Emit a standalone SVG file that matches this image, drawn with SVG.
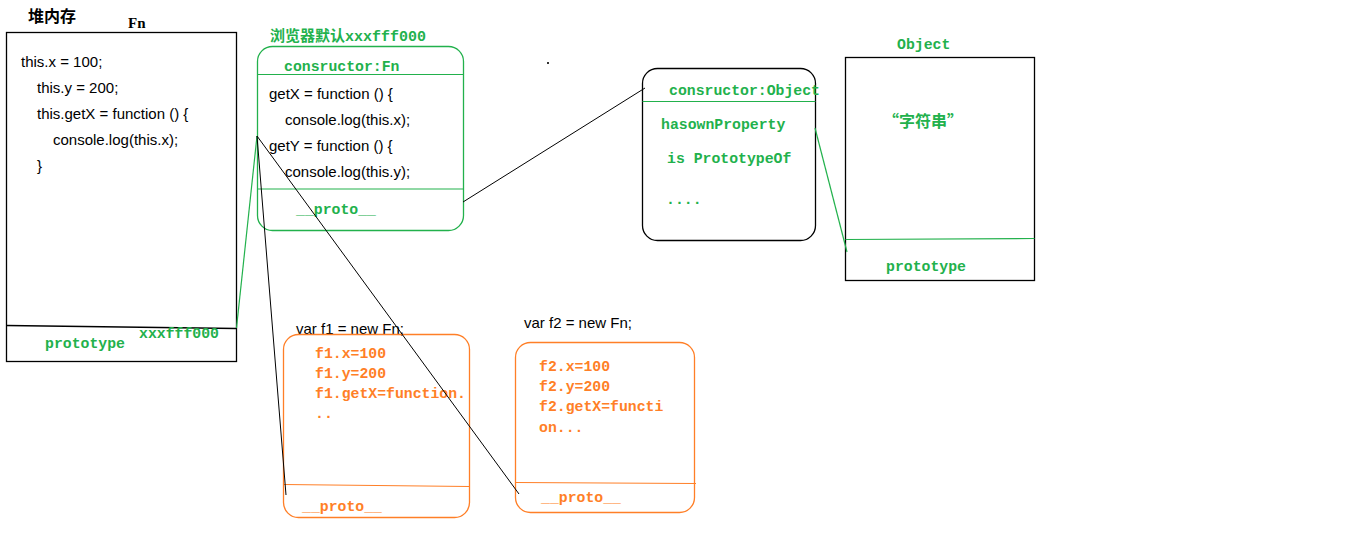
<svg xmlns="http://www.w3.org/2000/svg" width="1360" height="540" viewBox="0 0 1360 540">
<style>
.bg{fill:#ffffff}
.box{fill:none;stroke:#000;stroke-width:1.3}
.gbox{fill:none;stroke:#22b14c;stroke-width:1.3}
.obox{fill:none;stroke:#ff7f27;stroke-width:1.3}
.gl{stroke:#22b14c;stroke-width:1.2;fill:none}
.bl{stroke:#000;stroke-width:1;fill:none}
.ol{stroke:#ff7f27;stroke-width:1.2;fill:none}
.code{font-family:"Liberation Sans","Noto Sans",sans-serif;font-size:15px;fill:#000}
.mg{font-family:"Liberation Mono","DejaVu Sans Mono","Noto Sans CJK SC",monospace;font-size:14.8px;font-weight:bold;fill:#22b14c}
.mo{font-family:"Liberation Mono","DejaVu Sans Mono",monospace;font-size:14.8px;font-weight:bold;fill:#ff7f27}
.cjk{font-family:"Noto Sans CJK SC",sans-serif;font-weight:bold}
</style>
<rect class="bg" x="0" y="0" width="1360" height="540"/>

<g id="heap-label">
<text class="cjk" x="28" y="22" font-size="16" fill="#000">堆内存</text>
</g>

<g id="fn-box">
<text x="128" y="28" font-family="Liberation Serif,serif" font-size="15" font-weight="bold" fill="#000">Fn</text>
<rect class="box" x="6.5" y="32.5" width="230" height="329"/>
<path class="box" d="M6.5 325.5 L236.5 328.5"/>
<text class="code" x="21" y="67">this.x = 100;</text>
<text class="code" x="37" y="93">this.y = 200;</text>
<text class="code" x="37" y="119">this.getX = function () {</text>
<text class="code" x="53" y="145">console.log(this.x);</text>
<text class="code" x="37" y="171">}</text>
<text class="mg" x="45" y="348">prototype</text>
<text class="mg" x="139" y="338">xxxfff000</text>
</g>

<g id="fn-prototype">
<text x="270" y="41" font-size="15" font-weight="bold" fill="#22b14c" font-family="Noto Sans CJK SC,sans-serif">浏览器默认<tspan font-family="Liberation Mono,monospace">xxxfff000</tspan></text>
<rect class="gbox" x="257.5" y="46.5" width="206" height="184" rx="15" ry="15"/>
<line class="gl" x1="257.5" y1="74.5" x2="463.5" y2="74.5"/>
<line class="gl" x1="257.5" y1="189" x2="463.5" y2="189"/>
<text class="mg" x="284" y="71">consructor:Fn</text>
<text class="code" x="269" y="99">getX = function () {</text>
<text class="code" x="285" y="125">console.log(this.x);</text>
<text class="code" x="269" y="151">getY = function () {</text>
<text class="code" x="285" y="177">console.log(this.y);</text>
<text class="mg" x="296" y="214">__proto__</text>
</g>

<g id="object-prototype">
<rect class="box" x="642.5" y="68.5" width="173" height="172" rx="15" ry="15"/>
<line class="gl" x1="642.5" y1="101.5" x2="815.5" y2="101.5"/>
<text class="mg" x="669" y="95">consructor:Object</text>
<text class="mg" x="661" y="129">hasownProperty</text>
<text class="mg" x="667" y="163">is PrototypeOf</text>
<text class="mg" x="666" y="204">....</text>
</g>

<g id="object-box">
<text class="mg" x="897" y="49">Object</text>
<rect class="box" x="845.5" y="57.5" width="189" height="223"/>
<line class="gl" x1="845.5" y1="239.5" x2="1034.5" y2="238.5"/>
<text x="883" y="127" font-size="16" font-weight="bold" fill="#22b14c" font-family="Noto Sans CJK SC,sans-serif">“字符串”</text>
<text class="mg" x="886" y="271">prototype</text>
</g>

<g id="f1">
<text class="code" x="296" y="334">var f1 = new Fn;</text>
<rect class="obox" x="283.5" y="334.5" width="186" height="183" rx="15" ry="15"/>
<line class="ol" x1="283.5" y1="484.5" x2="469.5" y2="486.5"/>
<text class="mo" x="315" y="358">f1.x=100</text>
<text class="mo" x="315" y="378">f1.y=200</text>
<text class="mo" x="315" y="398">f1.getX=function.</text>
<text class="mo" x="315" y="418">..</text>
<text class="mo" x="302" y="511">__proto__</text>
</g>

<g id="f2">
<text class="code" x="524" y="328">var f2 = new Fn;</text>
<rect class="obox" x="515.5" y="342.5" width="179" height="170" rx="15" ry="15"/>
<line class="ol" x1="515.5" y1="482.5" x2="696" y2="483.5"/>
<text class="mo" x="539" y="371">f2.x=100</text>
<text class="mo" x="539" y="391">f2.y=200</text>
<text class="mo" x="539" y="411">f2.getX=functi</text>
<text class="mo" x="539" y="432">on...</text>
<text class="mo" x="541" y="502">__proto__</text>
</g>

<g id="connectors">
<line class="gl" x1="236.5" y1="328" x2="257" y2="136"/>
<line class="bl" x1="257" y1="136" x2="286" y2="495"/>
<line class="bl" x1="257" y1="136" x2="519" y2="494"/>
<line class="bl" x1="463" y1="202" x2="645" y2="88"/>
<line class="gl" x1="815" y1="128" x2="847" y2="252"/>
<rect x="547" y="62" width="2" height="2" fill="#333"/>
</g>
</svg>
